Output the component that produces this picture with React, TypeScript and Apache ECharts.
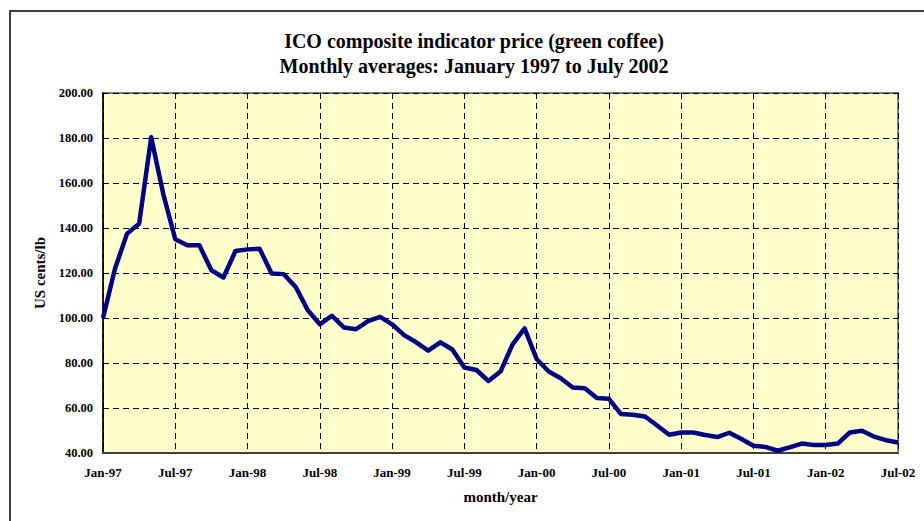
import React, { useEffect, useRef } from "react";
import * as echarts from "echarts";

const monthNames = ["Jan", "Feb", "Mar", "Apr", "May", "Jun", "Jul", "Aug", "Sep", "Oct", "Nov", "Dec"];
const startYear = 1997;
const monthCount = 67;

const categories: string[] = [];
for (let i = 0; i < monthCount; i++) {
  const y = startYear + Math.floor(i / 12);
  categories.push(`${monthNames[i % 12]}-${String(y).slice(2)}`);
}

const prices1997 = [100.0, 122.0, 137.5, 141.9, 180.3, 155.2, 135.0, 132.3, 132.3, 121.2, 118.0, 129.8];
const prices1998 = [130.5, 130.8, 119.8, 119.5, 113.8, 103.5, 97.2, 101.0, 95.8, 95.0, 98.6, 100.5];
const prices1999 = [97.2, 92.4, 89.2, 85.5, 89.2, 86.0, 78.0, 76.9, 72.0, 76.2, 88.3, 95.4];
const prices2000 = [81.8, 76.2, 73.2, 69.1, 68.8, 64.4, 64.1, 57.3, 57.0, 56.2, 52.2, 48.1];
const prices2001 = [49.1, 49.1, 48.0, 47.1, 49.0, 46.2, 43.2, 42.7, 41.0, 42.5, 44.2, 43.6];
const prices2002 = [43.6, 44.2, 49.1, 49.9, 47.3, 45.7, 44.7];

const prices = [...prices1997, ...prices1998, ...prices1999, ...prices2000, ...prices2001, ...prices2002];

const titleLine1 = "ICO composite indicator price (green coffee)";
const titleLine2 = "Monthly averages: January 1997 to July 2002";
const yAxisName = "US cents/lb";
const xAxisName = "month/year";

const FONT = "'Liberation Serif', 'Times New Roman', serif";

export default function App() {
  const ref = useRef<HTMLDivElement>(null);
  useEffect(() => {
    if (!ref.current) return;
    const chart = echarts.init(ref.current, null, { renderer: "svg" });
    chart.setOption({
      animation: false,
      backgroundColor: "#ffffff",
      graphic: [
        {
          type: "rect",
          z: -10,
          shape: { x: 10, y: 11, width: 940, height: 540 },
          style: { fill: "none", stroke: "#000", lineWidth: 1.5 },
          silent: true,
        },
        {
          type: "text",
          x: 474,
          y: 41,
          style: {
            text: titleLine1,
            font: `bold 20px ${FONT}`,
            fill: "#000",
            textAlign: "center",
            textVerticalAlign: "middle",
          },
        },
        {
          type: "text",
          x: 474,
          y: 66,
          style: {
            text: titleLine2,
            font: `bold 20px ${FONT}`,
            fill: "#000",
            textAlign: "center",
            textVerticalAlign: "middle",
          },
        },
      ],
      grid: {
        left: 103,
        top: 93,
        right: 26,
        bottom: 68,
        show: true,
        backgroundColor: "#FFFFCC",
        borderColor: "#808080",
        borderWidth: 2,
      },
      xAxis: {
        type: "category",
        data: categories,
        boundaryGap: false,
        name: xAxisName,
        nameLocation: "middle",
        nameGap: 36,
        nameTextStyle: { fontFamily: FONT, fontWeight: "bold", fontSize: 15, color: "#000" },
        axisLine: { show: true, lineStyle: { color: "#404040", width: 2 } },
        axisTick: { show: false },
        axisLabel: {
          interval: 5,
          fontFamily: FONT,
          fontWeight: "bold",
          fontSize: 13,
          color: "#000",
          margin: 13,
        },
        splitLine: {
          show: true,
          interval: 5,
          lineStyle: { color: "#000", type: [6, 4], width: 1 },
        },
      },
      yAxis: {
        type: "value",
        min: 40,
        max: 200,
        interval: 20,
        name: yAxisName,
        nameLocation: "middle",
        nameRotate: 90,
        nameGap: 53,
        nameTextStyle: { fontFamily: FONT, fontWeight: "bold", fontSize: 15, color: "#000" },
        axisLine: { show: true, lineStyle: { color: "#000", width: 1.5 } },
        axisTick: { show: false },
        axisLabel: {
          formatter: (v: number) => v.toFixed(2),
          fontFamily: FONT,
          fontWeight: "bold",
          fontSize: 12.5,
          color: "#000",
          margin: 10,
        },
        splitLine: {
          show: true,
          lineStyle: { color: "#000", type: [6, 4], width: 1 },
        },
      },
      series: [
        {
          type: "line",
          data: prices,
          showSymbol: false,
          symbol: "none",
          lineStyle: { color: "#000080", width: 4.5, join: "round" },
          z: 5,
        },
      ],
    });
    return () => chart.dispose();
  }, []);
  return (
    <div
      ref={ref}
      style={{ position: "absolute", left: 0, top: 0, width: 924, height: 521 }}
    />
  );
}
